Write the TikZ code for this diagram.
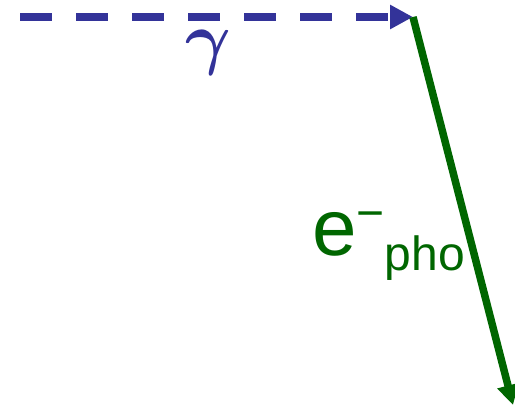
\RequirePackage{fix-cm}
\documentclass[tikz,border=0pt]{standalone}
\usepackage{bm}
\usepackage{fontspec}
\setmainfont{Liberation Sans}
\usetikzlibrary{arrows.meta,positioning}
\definecolor{photonblue}{RGB}{51,51,153}
\definecolor{electrongreen}{RGB}{0,102,0}
\tikzset{
  photonarr/.style={-{Triangle[length=23pt,width=23pt]},line width=8pt,dash pattern=on 32pt off 24pt,color=photonblue},
  electronarr/.style={-{Triangle[length=20pt,width=21pt]},line width=7.5pt,color=electrongreen},
  gammalabel/.style={inner sep=0pt,text=photonblue,font=\fontsize{70}{70}\selectfont},
  elabel/.style={inner sep=0pt,text=electrongreen,font=\fontsize{80}{80}\selectfont}
}
\begin{document}
\begin{tikzpicture}[x=1pt,y=-1pt]
  \useasboundingbox (0,0) rectangle (515,412);
  \coordinate (gstart) at (20,17);
  \coordinate (vertex) at (413,17);
  \coordinate (eend) at (513,405);

  \draw[photonarr] (gstart) -- (vertex);
  \draw[electronarr] (vertex) -- (eend);

  \node[gammalabel,anchor=base] (gamma) at (208,62) {$\bm{\gamma}$};
  \node[elabel,anchor=base west] (ephoto) at (312,255)
    {e\raisebox{26pt}{\fontsize{48}{48}\selectfont −}\raisebox{-15pt}{\fontsize{48}{48}\selectfont pho}};
\end{tikzpicture}
\end{document}
